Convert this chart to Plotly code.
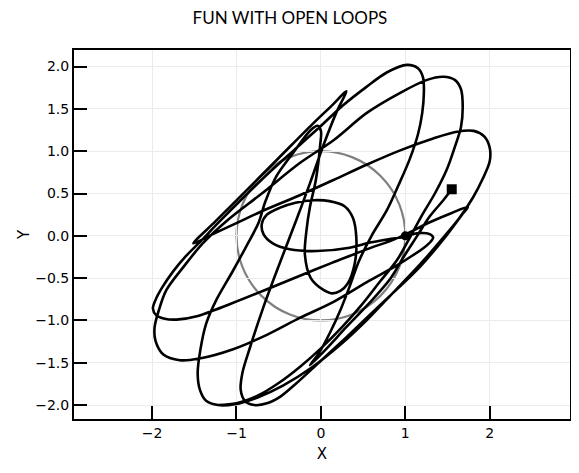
import plotly.graph_objects as go

# trajectory (data units), in six consecutive pieces
petal_c_x = [-1.22, -1.00, -0.75, -0.50, -0.25, 0.00, 0.25, 0.48, 0.70, 0.90, 1.06, 1.19, 1.35, 1.49, 1.59, 1.66,
             1.68, 1.66, 1.59, 1.45, 1.25, 0.94, 0.54, 0.15, -0.25, -0.70, -1.10, -1.40, -1.63, -1.83, -1.92,
             -1.97, -1.96, -1.87, -1.67, -1.44, -1.04, -0.64, -0.25, 0.15, 0.54, 0.90, 1.09, 1.22, 1.30, 1.33,
             1.29, 1.14, 1.00]
petal_c_y = [-2.00, -1.98, -1.89, -1.74, -1.55, -1.33, -1.08, -0.82, -0.54, -0.29, -0.01, 0.23, 0.50, 0.78, 1.06, 1.29,
             1.53, 1.73, 1.84, 1.88, 1.84, 1.69, 1.45, 1.13, 0.86, 0.50, 0.19, -0.09, -0.37, -0.64, -0.88,
             -1.08, -1.24, -1.40, -1.47, -1.45, -1.34, -1.17, -0.97, -0.78, -0.55, -0.35, -0.23, -0.14, -0.07, -0.02,
             0.02, 0.03, -0.01]

inner_x = [1.00, 0.80, 0.58, 0.34, -0.05, -0.37, -0.57, -0.68, -0.70, -0.64, -0.49, -0.30, -0.09, 0.10, 0.28,
           0.38, 0.42, 0.40, 0.32, 0.23, 0.13, 0.03, -0.12, -0.19, -0.17, -0.13, -0.06, -0.01, 0.00, -0.04]
inner_y = [-0.01, -0.04, -0.08, -0.14, -0.18, -0.16, -0.09, 0.02, 0.14, 0.25, 0.33, 0.39, 0.42, 0.41, 0.35,
           0.21, -0.03, -0.33, -0.56, -0.65, -0.68, -0.64, -0.50, -0.22, 0.07, 0.34, 0.66, 1.06, 1.24, 1.30]

petal_d_x = [-0.04, -0.12, -0.33, -0.53, -0.66, -0.74, -0.86, -1.04, -1.24, -1.36, -1.43, -1.46, -1.43, -1.36,
             -1.22, -1.02, -0.75, -0.45, -0.10, 0.25, 0.55, 0.82, 1.06, 1.27, 1.46, 1.64, 1.80, 1.92, 2.00, 2.00,
             1.94, 1.81, 1.61, 1.33, 0.94, 0.54, 0.15, -0.25, -0.70, -1.00, -1.28, -1.51]
petal_d_y = [1.30, 1.25, 0.98, 0.70, 0.40, 0.15, -0.08, -0.41, -0.76, -1.04, -1.36, -1.63, -1.83, -1.95,
             -2.00, -1.99, -1.91, -1.77, -1.55, -1.27, -0.99, -0.71, -0.46, -0.23, -0.01, 0.21, 0.45, 0.68, 0.88, 1.04,
             1.17, 1.24, 1.23, 1.15, 1.01, 0.84, 0.66, 0.48, 0.29, 0.15, 0.02, -0.09]

petal_a_x = [-1.51, -1.25, -0.90, -0.50, -0.10, 0.15, 0.30, 0.18, 0.03, -0.13, -0.29, -0.49, -0.68, -0.84, -0.93,
             -0.95, -0.90, -0.79, -0.64, -0.48, -0.31, -0.09, 0.30, 0.70, 1.17, 1.50, 1.68, 1.74]
petal_a_y = [-0.09, 0.17, 0.52, 0.92, 1.32, 1.56, 1.71, 1.45, 1.07, 0.62, 0.19, -0.33, -0.84, -1.32, -1.62,
             -1.82, -1.95, -2.00, -1.98, -1.90, -1.76, -1.56, -1.20, -0.82, -0.37, 0.02, 0.26, 0.34]

petal_b_x = [1.74, 1.55, 1.29, 0.90, 0.54, 0.13, -0.27, -0.66, -1.06, -1.47, -1.71, -1.85, -1.95, -1.99, -1.96,
             -1.88, -1.75, -1.60, -1.45, -1.20, -0.90, -0.60, -0.30, -0.01, 0.26, 0.54, 0.78, 1.02, 1.15, 1.21,
             1.22, 1.20, 1.15, 1.05, 0.92, 0.78, 0.60, 0.45, 0.34, 0.23, 0.11, -0.02, -0.13]
petal_b_y = [0.34, 0.27, 0.16, -0.03, -0.16, -0.32, -0.48, -0.64, -0.80, -0.95, -0.99, -0.98, -0.94, -0.86, -0.76,
             -0.61, -0.42, -0.24, -0.09, 0.17, 0.47, 0.76, 1.03, 1.29, 1.54, 1.76, 1.93, 2.02, 1.98, 1.87,
             1.69, 1.45, 1.20, 0.90, 0.60, 0.30, 0.00, -0.30, -0.60, -0.88, -1.14, -1.38, -1.53]

tail_x = [-0.13, 0.05, 0.30, 0.55, 0.82, 0.98, 1.135, 1.29, 1.45, 1.55]
tail_y = [-1.53, -1.35, -1.08, -0.82, -0.51, -0.25, -0.01, 0.23, 0.42, 0.55]

start_x, start_y = [1.0], [0.0]
end_x, end_y = [1.55], [0.55]
circle_r = 1.0

x_ticks = [-2, -1, 0, 1, 2]
x_labels = ["\u22122", "\u22121", "0", "1", "2"]
y_ticks = [-2.0, -1.5, -1.0, -0.5, 0.0, 0.5, 1.0, 1.5, 2.0]
y_labels = ["\u22122.0", "\u22121.5", "\u22121.0", "\u22120.5", "0.0", "0.5", "1.0", "1.5", "2.0"]

# join the pieces into one path (each piece starts where the last one ended)
path_x, path_y = list(petal_c_x), list(petal_c_y)
for px, py in [(inner_x, inner_y), (petal_d_x, petal_d_y), (petal_a_x, petal_a_y),
               (petal_b_x, petal_b_y), (tail_x, tail_y)]:
    path_x += px[1:]
    path_y += py[1:]

fig = go.Figure()

# the unit circle
fig.add_shape(type="circle", xref="x", yref="y", x0=-circle_r, y0=-circle_r, x1=circle_r, y1=circle_r,
              line=dict(color="#808080", width=2.2), layer="below")

fig.add_trace(go.Scatter(x=path_x, y=path_y, mode="lines",
                         line=dict(color="black", width=2.6, shape="spline", smoothing=0.9),
                         hoverinfo="skip"))
fig.add_trace(go.Scatter(x=start_x, y=start_y, mode="markers", marker=dict(symbol="circle", size=9, color="black")))
fig.add_trace(go.Scatter(x=end_x, y=end_y, mode="markers", marker=dict(symbol="square", size=10, color="black")))

axis_style = dict(showline=True, linecolor="black", linewidth=2, mirror=True,
                  ticks="inside", ticklen=13, tickwidth=2, tickcolor="black",
                  showgrid=True, gridcolor="#ebebeb", gridwidth=1, zeroline=False,
                  tickfont=dict(family="DejaVu Sans", size=14, color="black"))

fig.update_xaxes(range=[-2.925, 2.951], tickvals=x_ticks, ticktext=x_labels,
                 title=dict(text="X", font=dict(family="DejaVu Sans", size=15, color="black"), standoff=9),
                 **axis_style)
fig.update_yaxes(range=[-2.165, 2.196], tickvals=y_ticks, ticktext=y_labels,
                 title=dict(text="Y", font=dict(family="DejaVu Sans", size=15, color="black"), standoff=2),
                 **axis_style)

# the page puts the figure 8px in from the corner, so the margins are set 8px short
fig.update_layout(
    width=579, height=473,
    margin=dict(l=66, r=17, t=42, b=62),
    paper_bgcolor="white", plot_bgcolor="white",
    showlegend=False,
    title=dict(text="FUN WITH OPEN LOOPS", x=0.487, xref="container", xanchor="center",
               y=0.979, yref="container", yanchor="middle",
               font=dict(family="Lato", size=17, color="black")),
)

fig.write_html("out.html")
